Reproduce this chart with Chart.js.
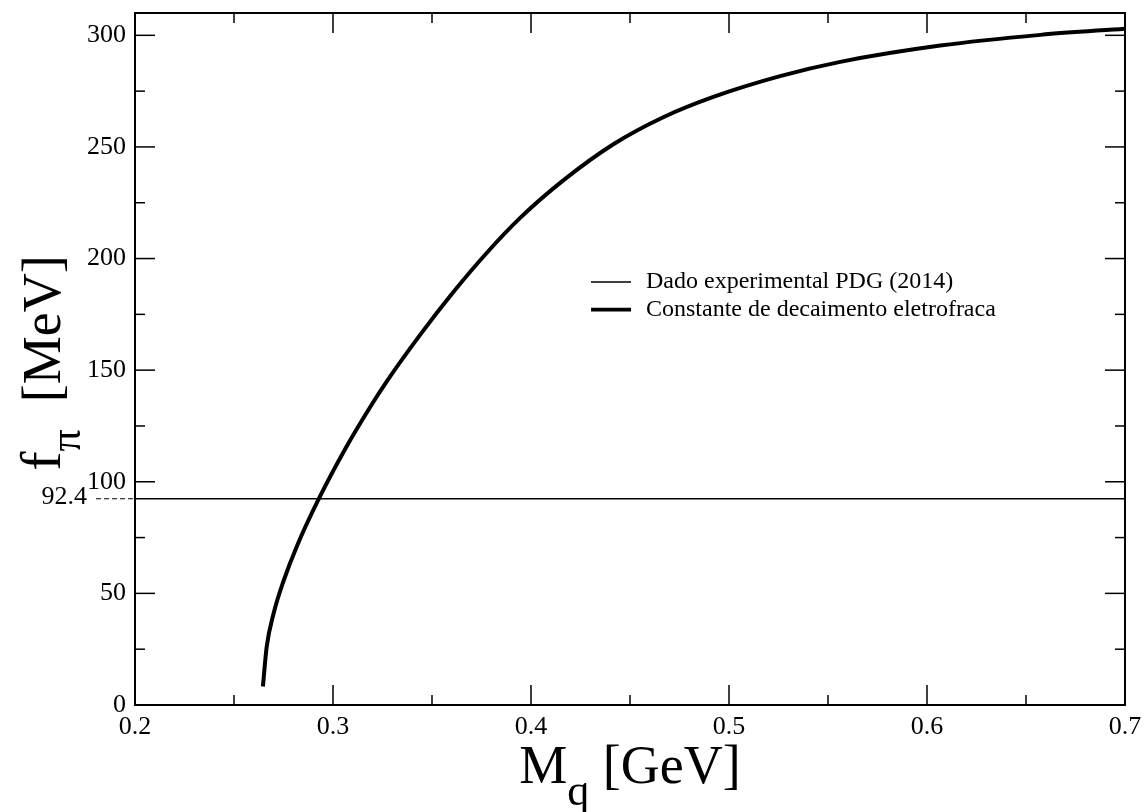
<!DOCTYPE html>
<html>
<head>
<meta charset="utf-8">
<title>f_pi vs M_q</title>
<script src="https://cdn.jsdelivr.net/npm/chart.js@4.4.0/dist/chart.umd.min.js"></script>
<style>
  html, body { margin: 0; padding: 0; background: #fff; }
  #wrap { width: 1145px; height: 812px; }
</style>
</head>
<body>
<div id="wrap"><canvas id="chart"></canvas></div>
<script>
// values
const massGeV = [0.2646, 0.2665, 0.2700, 0.2752, 0.2815, 0.2928, 0.3068, 0.3202, 0.3270, 0.3438,
                 0.3607, 0.3776, 0.3944, 0.4163, 0.4416, 0.4668, 0.4921, 0.5258, 0.5562, 0.6067,
                 0.6573, 0.7000];
const fPiMeV = [8.3, 26, 41, 56, 70.6, 92.3, 115.7, 135.5, 144.8, 165.6,
                184.9, 202.5, 218.1, 235.0, 251.2, 263.3, 272.4, 281.7, 288.1, 295.4,
                300.2, 303.0];
const pdgValue = 92.4;
const xRange = [0.2, 0.7];
const yRange = [0, 310];
const xTickValues = [0.2, 0.3, 0.4, 0.5, 0.6, 0.7];
const yTickValues = [0, 50, 100, 150, 200, 250, 300];
const seriesLabels = ["Dado experimental PDG (2014)", "Constante de decaimento eletrofraca"];

const SERIF = '"Liberation Serif", "Times New Roman", serif';
Chart.defaults.font.family = SERIF;
Chart.defaults.color = "#000";

const curvePoints = massGeV.map((m, i) => ({ x: m, y: fPiMeV[i] }));
const pdgPoints = xRange.map((m) => ({ x: m, y: pdgValue }));

const midpoints = (arr) => arr.slice(1).map((v, i) => (v + arr[i]) / 2);

// draws text made of pieces, some of them lowered as subscripts
function drawPieces(ctx, pieces, cx, baseY) {
  let total = 0;
  pieces.forEach((p) => {
    ctx.font = p.size + "px " + SERIF;
    p.w = ctx.measureText(p.t).width;
    total += p.w;
  });
  let x = cx - total / 2;
  ctx.textAlign = "left";
  ctx.textBaseline = "alphabetic";
  pieces.forEach((p) => {
    ctx.font = p.size + "px " + SERIF;
    ctx.fillText(p.t, x, baseY + p.dy);
    x += p.w;
  });
}

const framePlugin = {
  id: "frame",
  afterDraw(chart) {
    const { ctx, chartArea: a, scales } = chart;
    const xs = scales.x, ys = scales.y;
    const line = (x1, y1, x2, y2) => {
      ctx.beginPath(); ctx.moveTo(x1, y1); ctx.lineTo(x2, y2); ctx.stroke();
    };
    ctx.save();
    ctx.strokeStyle = "#000";
    ctx.fillStyle = "#000";

    // box
    ctx.lineWidth = 2;
    ctx.strokeRect(a.left, a.top, a.right - a.left, a.bottom - a.top);

    // inward ticks on all sides
    ctx.lineWidth = 1.5;
    xTickValues.forEach((v) => {
      const px = xs.getPixelForValue(v);
      line(px, a.bottom, px, a.bottom - 20);
      line(px, a.top, px, a.top + 20);
    });
    midpoints(xTickValues).forEach((v) => {
      const px = xs.getPixelForValue(v);
      line(px, a.bottom, px, a.bottom - 10);
      line(px, a.top, px, a.top + 10);
    });
    yTickValues.forEach((v) => {
      const py = ys.getPixelForValue(v);
      line(a.left, py, a.left + 20, py);
      line(a.right, py, a.right - 20, py);
    });
    midpoints(yTickValues).forEach((v) => {
      const py = ys.getPixelForValue(v);
      line(a.left, py, a.left + 10, py);
      line(a.right, py, a.right - 10, py);
    });

    // 92.4 marker outside the left axis
    const pdgY = ys.getPixelForValue(pdgValue);
    ctx.lineWidth = 1;
    ctx.setLineDash([5, 3]);
    line(a.left - 39, pdgY, a.left, pdgY);
    ctx.setLineDash([]);
    ctx.font = "26px " + SERIF;
    ctx.textAlign = "right";
    ctx.textBaseline = "middle";
    ctx.fillText(String(pdgValue), a.left - 48, pdgY - 2);

    // legend
    const lx = a.left + 456, ly = a.top + 269;
    chart.data.datasets.forEach((ds, i) => {
      const y = ly + i * 27.6;
      ctx.lineWidth = ds.legendWidth;
      line(lx, y, lx + 40, y);
      ctx.font = "24px " + SERIF;
      ctx.textAlign = "left";
      ctx.textBaseline = "middle";
      ctx.fillText(ds.label, lx + 55, y);
    });

    // axis titles
    drawPieces(ctx, [
      { t: "M", size: 54, dy: 0 },
      { t: "q", size: 44, dy: 22 },
      { t: " [GeV]", size: 54, dy: 0 }
    ], (a.left + a.right) / 2, a.bottom + 78);

    ctx.translate(60, (a.top + a.bottom) / 2 + 4);
    ctx.rotate(-Math.PI / 2);
    drawPieces(ctx, [
      { t: "f", size: 58, dy: 0 },
      { t: "π", size: 44, dy: 20 },
      { t: "  [MeV]", size: 54, dy: 0 }
    ], 0, 0);
    ctx.restore();
  }
};

const noPad = (scale) => {
  scale.paddingLeft = 0; scale.paddingRight = 0;
  scale.paddingTop = 0; scale.paddingBottom = 0;
};

new Chart(document.getElementById("chart"), {
  type: "line",
  data: {
    datasets: [
      {
        label: seriesLabels[0],
        data: pdgPoints,
        borderColor: "#000",
        borderWidth: 1.6,
        legendWidth: 1.5,
        pointRadius: 0
      },
      {
        label: seriesLabels[1],
        data: curvePoints,
        borderColor: "#000",
        borderWidth: 4,
        legendWidth: 3.6,
        pointRadius: 0,
        cubicInterpolationMode: "monotone"
      }
    ]
  },
  options: {
    responsive: true,
    maintainAspectRatio: false,
    animation: false,
    layout: { padding: { top: 13, right: 20, left: 0, bottom: 0 } },
    plugins: { legend: { display: false }, tooltip: { enabled: false } },
    scales: {
      x: {
        type: "linear",
        min: xRange[0],
        max: xRange[1],
        grid: { display: false, drawTicks: false },
        border: { display: false },
        afterBuildTicks: (s) => { s.ticks = xTickValues.map((v) => ({ value: v })); },
        afterFit: (s) => { s.height = 107; noPad(s); },
        ticks: {
          padding: 7,
          maxRotation: 0,
          font: { size: 26 },
          callback: (v) => String(v)
        }
      },
      y: {
        type: "linear",
        min: yRange[0],
        max: yRange[1],
        grid: { display: false, drawTicks: false },
        border: { display: false },
        afterBuildTicks: (s) => { s.ticks = yTickValues.map((v) => ({ value: v })); },
        afterFit: (s) => { s.width = 135; noPad(s); },
        ticks: {
          padding: 9,
          font: { size: 26 },
          callback: (v) => String(v)
        }
      }
    }
  },
  plugins: [framePlugin]
});
</script>
</body>
</html>
